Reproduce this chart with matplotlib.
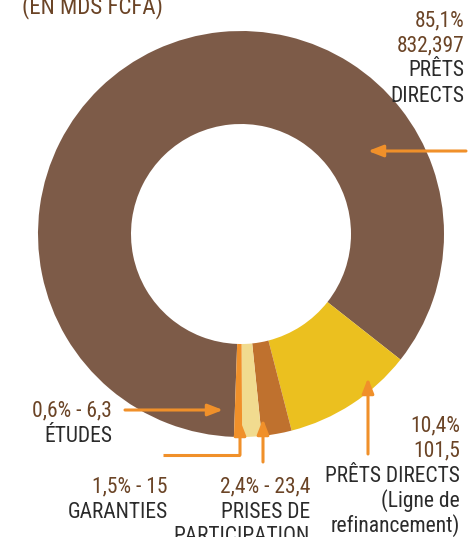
import matplotlib
matplotlib.use('Agg')
import matplotlib.pyplot as plt

# data (milliards FCFA)
categories = ['PRÊTS DIRECTS', 'PRÊTS DIRECTS (Ligne de refinancement)',
              'PRISES DE PARTICIPATION', 'GARANTIES', 'ÉTUDES']
values = [832.397, 101.5, 23.4, 15, 6.3]
pct_labels = ['85,1%', '10,4%', '2,4%', '1,5%', '0,6%']
value_labels = ['832,397', '101,5', '23,4', '15', '6,3']
colors = ['#7D5B48', '#EBC01F', '#BF712E', '#F1DB8F', '#F0902A']

brown_txt = '#6B4426'
dark_txt = '#2B2B2B'
arrow_col = '#F0902A'

W, H = 468, 537
plt.rcParams['font.family'] = ['Roboto Condensed', 'Roboto', 'DejaVu Sans']

fig = plt.figure(figsize=(W / 100, H / 100), dpi=100)
ax = fig.add_axes([0, 0, 1, 1])


def Y(y):
    # image coordinate (top down) -> axes coordinate
    return H - y


ax.pie(values, colors=colors, startangle=268, counterclock=False,
       center=(241, Y(234)), radius=203,
       wedgeprops=dict(width=93, linewidth=0), frame=True)
ax.set_xlim(0, W)
ax.set_ylim(0, H)
ax.set_aspect('equal')
ax.axis('off')

fs = 15.5


def label(x, y, lines):
    for i, (txt, col) in enumerate(lines):
        ax.text(x, Y(y + i * 25), txt, ha='right', va='center',
                fontsize=fs, color=col)


def arrow(pts):
    # polyline, arrow head on last segment
    xs = [p[0] for p in pts]
    ys = [Y(p[1]) for p in pts]
    if len(pts) > 2:
        ax.plot(xs[:-1], ys[:-1], color=arrow_col, lw=2.2, solid_capstyle='butt')
    ax.annotate('', xy=(xs[-1], ys[-1]), xytext=(xs[-2], ys[-2]),
                arrowprops=dict(arrowstyle='-|>,head_length=0.9,head_width=0.35',
                                color=arrow_col, lw=2.2, shrinkA=0, shrinkB=0))


ax.text(22, Y(7), '(EN MDS FCFA)', ha='left', va='center', fontsize=16.5,
        color=brown_txt)

label(464, 21, [(pct_labels[0], brown_txt), (value_labels[0], brown_txt),
                ('PRÊTS', dark_txt), ('DIRECTS', dark_txt)])
arrow([(466, 151), (368, 151)])

label(460, 426, [(pct_labels[1], brown_txt), (value_labels[1], brown_txt),
                 ('PRÊTS DIRECTS', dark_txt), ('(Ligne de', dark_txt),
                 ('refinancement)', dark_txt)])
arrow([(368, 454), (368, 378)])

label(112, 411, [(pct_labels[4] + ' - ' + value_labels[4], brown_txt),
                 ('ÉTUDES', dark_txt)])
arrow([(125, 410), (223, 410)])

label(168, 487, [(pct_labels[3] + ' - ' + value_labels[3], brown_txt),
                 ('GARANTIES', dark_txt)])
arrow([(163, 455), (240, 455), (240, 420)])

label(310, 487, [(pct_labels[2] + ' - ' + value_labels[2], brown_txt),
                 ('PRISES DE', dark_txt), ('PARTICIPATION', dark_txt)])
arrow([(263, 462), (263, 419)])

fig.savefig('out.png', dpi=100)
